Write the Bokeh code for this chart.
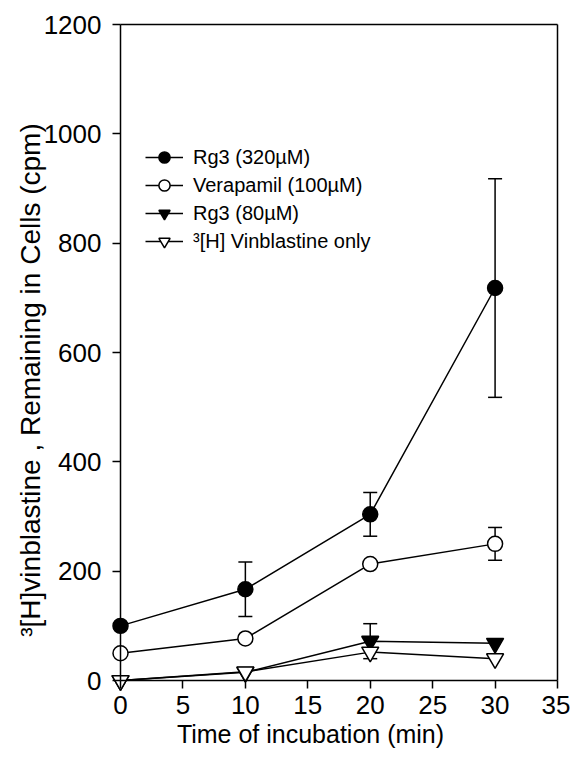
from bokeh.plotting import figure
from bokeh.models import (LinearAxis, FixedTicker, Range1d, Legend, LegendItem,
                          ColumnDataSource, Whisker, TeeHead)
from bokeh.embed import file_html
from bokeh.resources import INLINE

# ---- data ----
time_min = [0, 10, 20, 30]
rg3_320 = [100, 167, 304, 718]
rg3_320_err = [0, 50, 40, 200]
verapamil_100 = [50, 77, 213, 250]
verapamil_100_err = [0, 0, 0, 30]
rg3_80 = [0, 15, 72, 68]
rg3_80_err = [0, 0, 32, 0]
vinblastine_only = [0, 16, 52, 40]
vinblastine_only_err = [0, 0, 0, 0]

x_ticks = [0, 5, 10, 15, 20, 25, 30, 35]
y_ticks = [0, 200, 400, 600, 800, 1000, 1200]

labels = ["Rg3 (320\u00b5M)", "Verapamil (100\u00b5M)", "Rg3 (80\u00b5M)", "\u00b3[H] Vinblastine only"]
x_label = "Time of incubation (min)"
y_label = "\u00b3[H]vinblastine , Remaining in Cells (cpm)"

FONT = "Liberation Sans"
W, H = 570, 755

p = figure(width=W, height=H,
           x_range=Range1d(-9.611, 36.04), y_range=Range1d(-137.1, 1243.9),
           x_axis_type=None, y_axis_type=None,
           output_backend="svg", toolbar_location=None,
           min_border=0, min_border_left=0, min_border_right=0,
           min_border_top=0, min_border_bottom=0)
p.outline_line_color = None
p.background_fill_color = "white"
p.border_fill_color = "white"


def style_axis(ax):
    ax.axis_line_width = 1.5
    ax.axis_line_color = "black"
    ax.major_tick_line_width = 1.5
    ax.major_tick_line_color = "black"
    ax.major_tick_out = 8
    ax.major_tick_in = 0
    ax.minor_tick_line_color = None
    ax.major_label_text_font = FONT
    ax.major_label_text_color = "black"
    ax.axis_label_text_font = FONT
    ax.axis_label_text_font_style = "normal"
    ax.axis_label_text_color = "black"


# main axes (ticks + tick labels)
xaxis = LinearAxis(fixed_location=0, bounds=(0, 35), ticker=FixedTicker(ticks=x_ticks))
style_axis(xaxis)
xaxis.major_label_text_font_size = "26px"
xaxis.major_label_standoff = 7
p.add_layout(xaxis, "below")

yaxis = LinearAxis(fixed_location=0, bounds=(0, 1200), ticker=FixedTicker(ticks=y_ticks))
style_axis(yaxis)
yaxis.major_label_text_font_size = "26px"
yaxis.major_label_standoff = 11
p.add_layout(yaxis, "left")

# axis titles (offset like the original)
xtitle = LinearAxis(fixed_location=0, bounds=(0, 30.44), ticker=FixedTicker(ticks=[]),
                    axis_label=x_label)
style_axis(xtitle)
xtitle.axis_line_color = None
xtitle.major_tick_out = 0
xtitle.axis_label_text_font_size = "25px"
xtitle.axis_label_standoff = 39
p.add_layout(xtitle, "below")

ytitle = LinearAxis(fixed_location=0, bounds=(0, 1100), ticker=FixedTicker(ticks=[]),
                    axis_label=y_label)
style_axis(ytitle)
ytitle.axis_line_color = None
ytitle.major_tick_out = 0
ytitle.axis_label_text_font_size = "28px"
ytitle.axis_label_standoff = 75
p.add_layout(ytitle, "left")

# frame lines (top and right)
top_line = LinearAxis(fixed_location=1200, bounds=(0, 35), ticker=FixedTicker(ticks=[]))
style_axis(top_line)
p.add_layout(top_line, "above")
right_line = LinearAxis(fixed_location=35, bounds=(0, 1200), ticker=FixedTicker(ticks=[]))
style_axis(right_line)
p.add_layout(right_line, "right")

series = [
    (rg3_320, rg3_320_err, "circle", "black", 15),
    (verapamil_100, verapamil_100_err, "circle", "white", 15),
    (rg3_80, rg3_80_err, "inverted_triangle", "black", 17),
    (vinblastine_only, vinblastine_only_err, "inverted_triangle", "white", 17),
]

pending = []
for (vals, errs, marker, fill, size), lab in zip(series, labels):
    src = ColumnDataSource(dict(x=time_min, y=vals))
    lr = p.line("x", "y", source=src, line_color="black", line_width=1.5)
    ex = [t for t, e in zip(time_min, errs) if e > 0]
    if ex:
        up = [v + e for v, e in zip(vals, errs) if e > 0]
        lo = [v - e for v, e in zip(vals, errs) if e > 0]
        wsrc = ColumnDataSource(dict(x=ex, upper=up, lower=lo))
        w = Whisker(base="x", upper="upper", lower="lower", source=wsrc,
                    dimension="height", line_width=1.5, line_color="black",
                    upper_head=TeeHead(size=14, line_width=1.5, line_color="black"),
                    lower_head=TeeHead(size=14, line_width=1.5, line_color="black"))
        p.add_layout(w)
    pending.append((src, marker, fill, size, lab, lr))

items = []
for src, marker, fill, size, lab, lr in pending:
    mr = p.scatter("x", "y", source=src, marker=marker, size=size,
                   fill_color=fill, line_color="black", line_width=1.5)
    items.append(LegendItem(label=lab, renderers=[lr, mr]))

legend = Legend(items=items, location=(145, H - 255), padding=0, margin=0, spacing=0,
                glyph_width=38, glyph_height=28, label_height=28, label_standoff=10,
                label_text_font=FONT, label_text_font_size="20px",
                label_text_color="black",
                border_line_color=None, background_fill_alpha=0)
p.add_layout(legend, "center")

open("out.html", "w").write(file_html(p, INLINE))
